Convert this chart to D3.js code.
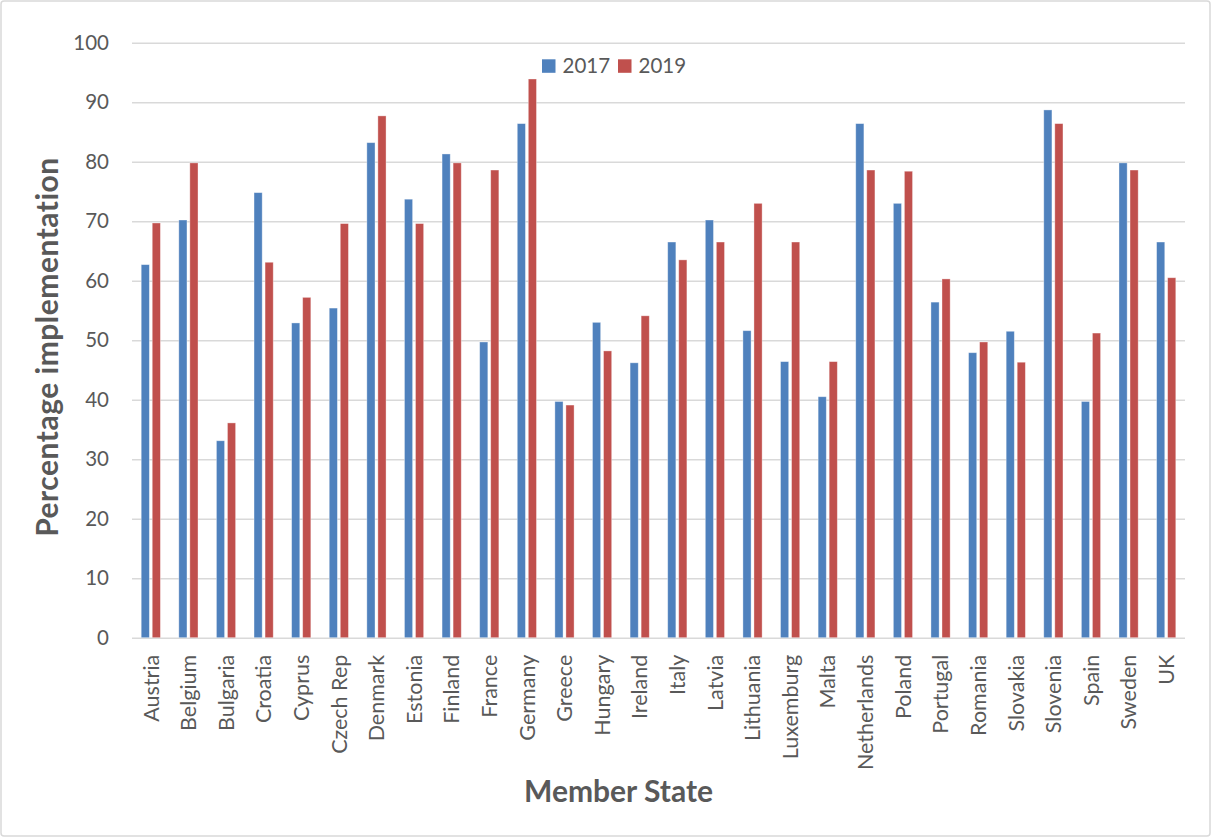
<!DOCTYPE html>
<html>
<head>
<meta charset="utf-8">
<script src="https://cdn.jsdelivr.net/npm/d3@7"></script>
<style>
  html, body { margin: 0; padding: 0; background: #fff; }
  svg { display: block; }
  text { font-family: Lato, "Open Sans", sans-serif; fill: #595959; }
</style>
</head>
<body>
<svg id="chart" width="1212" height="838"></svg>
<script>
const categories = ["Austria","Belgium","Bulgaria","Croatia","Cyprus","Czech Rep","Denmark","Estonia","Finland","France","Germany","Greece","Hungary","Ireland","Italy","Latvia","Lithuania","Luxemburg","Malta","Netherlands","Poland","Portugal","Romania","Slovakia","Slovenia","Spain","Sweden","UK"];
const seriesNames = ["2017","2019"];
const values2017 = [62.7,70.2,33.1,74.8,52.9,55.4,83.2,73.7,81.3,49.7,86.4,39.7,53.0,46.2,66.5,70.2,51.6,46.4,40.5,86.4,73.0,56.4,47.9,51.5,88.7,39.7,79.8,66.5];
const values2019 = [69.7,79.8,36.1,63.1,57.2,69.6,87.7,69.6,79.8,78.6,93.9,39.1,48.2,54.1,63.5,66.5,73.0,66.5,46.4,78.6,78.4,60.3,49.7,46.3,86.4,51.2,78.6,60.5];
const yTicks = [0,10,20,30,40,50,60,70,80,90,100];
const colors = ["#4F81BD","#C0504D"];
const yTitle = "Percentage implementation";
const xTitle = "Member State";

const svg = d3.select("#chart");

// outer border
svg.append("rect").attr("x",1).attr("y",1).attr("width",1209).attr("height",835)
  .attr("rx",3).attr("fill","#fff").attr("stroke","#d9d9d9").attr("stroke-width",1.5);

const plot = {left:132, right:1185, top:42.7, bottom:637.7};

const x0 = d3.scaleBand().domain(categories).range([plot.left, plot.right]).padding(0);
const bw = x0.bandwidth();
const x1 = d3.scaleBand().domain(seriesNames).range([bw/2 - 9.6, bw/2 + 9.6]).paddingInner(0.26).paddingOuter(0);
const y = d3.scaleLinear().domain([0,100]).range([plot.bottom, plot.top]);

// gridlines
const yAxis = d3.axisLeft(y).tickValues(yTicks).tickSize(-(plot.right-plot.left)).tickPadding(23);
const gy = svg.append("g").attr("transform",`translate(${plot.left},0)`).call(yAxis);
gy.select(".domain").remove();
gy.selectAll(".tick line").attr("stroke","#d9d9d9").attr("stroke-width",1.5);
gy.selectAll(".tick text").attr("font-size",20.5).attr("fill","#595959")
  .style("font-family","Lato, sans-serif");

// bars
const rows = categories.map((c,i)=>({cat:c, vals:[values2017[i], values2019[i]]}));
const groups = svg.append("g").selectAll("g").data(rows).join("g")
  .attr("transform", d=>`translate(${x0(d.cat)},0)`);
groups.selectAll("rect").data(d=>d.vals.map((v,j)=>({s:seriesNames[j], v, j})))
  .join("rect")
  .attr("x", d=>x1(d.s))
  .attr("width", x1.bandwidth())
  .attr("y", d=>y(d.v))
  .attr("height", d=>y(0)-y(d.v))
  .attr("fill", d=>colors[d.j])
  .attr("stroke", "#ffffff").attr("stroke-opacity",0.45).attr("stroke-width",0.8);

// x axis labels
const xAxis = d3.axisBottom(x0).tickSize(0).tickPadding(0);
const gx = svg.append("g").attr("transform",`translate(0,${plot.bottom})`).call(xAxis);
gx.select(".domain").remove();
gx.selectAll(".tick text")
  .attr("font-size",21.5).attr("fill","#595959").style("font-family","Lato, sans-serif")
  .attr("text-anchor","end")
  .attr("transform","rotate(-90)")
  .attr("x",-17).attr("y",0).attr("dy","0.36em");

// axis titles
svg.append("text").attr("transform","translate(58,347) rotate(-90)")
  .attr("text-anchor","middle").attr("font-size",30).attr("font-weight","bold")
  .attr("letter-spacing",0.5)
  .text(yTitle);
svg.append("text").attr("x",618.5).attr("y",801.5)
  .attr("text-anchor","middle").attr("font-size",30).attr("font-weight","bold")
  .text(xTitle);

// legend
const legX = [542, 618];
const leg = svg.append("g");
seriesNames.forEach((s,i)=>{
  leg.append("rect").attr("x",legX[i]).attr("y",59.3).attr("width",13.5).attr("height",13.5).attr("fill",colors[i]);
  leg.append("text").attr("x",legX[i]+20.5).attr("y",73.3).attr("font-size",20.5).text(s);
});
</script>
</body>
</html>
